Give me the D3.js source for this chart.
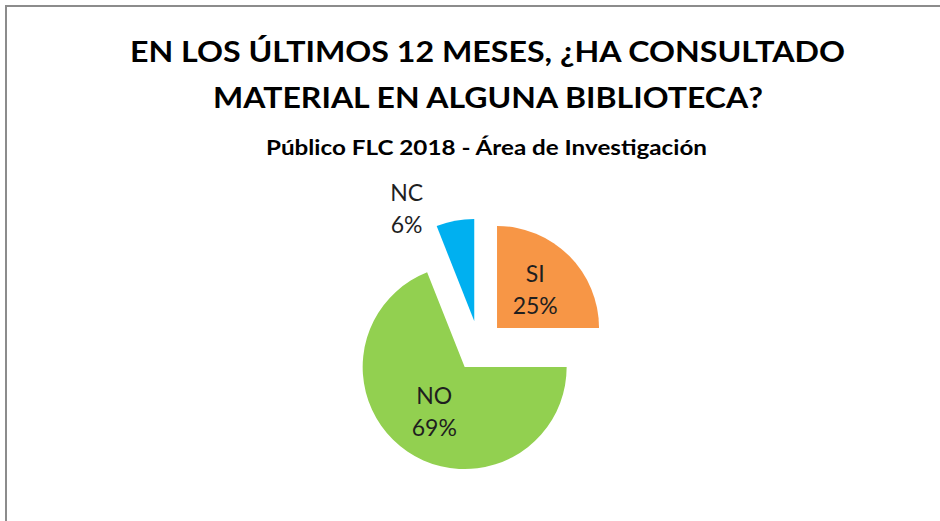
<!DOCTYPE html>
<html>
<head>
<meta charset="utf-8">
<script src="https://cdn.jsdelivr.net/npm/d3@7"></script>
<style>
  html, body { margin: 0; padding: 0; background: #ffffff; }
  svg { display: block; }
</style>
</head>
<body>
<svg id="chart" width="940" height="521"></svg>
<script>
// ---- data ----
const categories = ["SI", "NO", "NC"];
const values = [25, 69, 6];
const colors = ["#F79646", "#92D050", "#00B0F0"];
const titleLines = ["EN LOS ÚLTIMOS 12 MESES, ¿HA CONSULTADO", "MATERIAL EN ALGUNA BIBLIOTECA?"];
const subtitle = "Público FLC 2018 - Área de Investigación";

// ---- layout ----
const W = 940, H = 521;
const svg = d3.select("#chart");

// border frame (extends beyond right/bottom edges as in reference crop)
svg.append("rect")
  .attr("x", 6).attr("y", 6)
  .attr("width", W + 20).attr("height", H + 20)
  .attr("fill", "#ffffff")
  .attr("stroke", "#8c8c8c")
  .attr("stroke-width", 2);

// titles
const titleFont = "Lato, 'Open Sans', sans-serif";
const titleSpec = [
  { text: titleLines[0], y: 62, size: 28, x0: 130, x1: 845 },
  { text: titleLines[1], y: 108, size: 28, x0: 213, x1: 763 }
];
titleSpec.forEach(t => {
  svg.append("text")
    .attr("x", t.x0).attr("y", t.y)
    .attr("font-family", titleFont)
    .attr("font-weight", 700)
    .attr("font-size", t.size)
    .attr("fill", "#000")
    .attr("textLength", t.x1 - t.x0)
    .attr("lengthAdjust", "spacingAndGlyphs")
    .text(t.text);
});
svg.append("text")
  .attr("x", 266).attr("y", 155)
  .attr("font-family", titleFont)
  .attr("font-weight", 700)
  .attr("font-size", 20.5)
  .attr("fill", "#000")
  .attr("textLength", 707 - 266)
  .attr("lengthAdjust", "spacingAndGlyphs")
  .text(subtitle);

// pie
const cx = 479, cy = 346, R = 102;
const explode = 0.25 * R;

const pie = d3.pie().sort(null).value(d => d.value).startAngle(0).endAngle(2 * Math.PI);
const data = categories.map((c, i) => ({ name: c, value: values[i], color: colors[i] }));
const arcs = pie(data);
const total = d3.sum(values);

const arc = d3.arc().innerRadius(0).outerRadius(R);
const g = svg.append("g").attr("transform", `translate(${cx},${cy})`);

function polar(angle, r) {
  return [Math.sin(angle) * r, -Math.cos(angle) * r];
}

const slices = g.selectAll("g.slice")
  .data(arcs)
  .join("g")
  .attr("class", "slice")
  .attr("transform", d => {
    const mid = (d.startAngle + d.endAngle) / 2;
    const [dx, dy] = polar(mid, explode);
    return `translate(${dx},${dy})`;
  });

slices.append("path")
  .attr("d", arc)
  .attr("fill", d => d.data.color);

// labels
const labelFont = "Lato, 'Open Sans', sans-serif";
const labelSize = 23;
const lineH = 32;
slices.each(function(d) {
  const mid = (d.startAngle + d.endAngle) / 2;
  const frac = d.data.value / total;
  const sel = d3.select(this);
  let x, yc, anchor;
  if (frac >= 0.1) {
    const [px, py] = polar(mid, 0.53 * R);
    x = px; yc = py; anchor = "middle";
  } else {
    const [px, py] = polar(mid, R);
    x = px - 32; yc = py - 12; anchor = "end";
  }
  const t = sel.append("text")
    .attr("font-family", labelFont)
    .attr("font-size", labelSize)
    .attr("fill", "#1f1f1f")
    .attr("text-anchor", anchor);
  const lines = [d.data.name, Math.round(frac * 100) + "%"];
  lines.forEach((ln, i) => {
    t.append("tspan")
      .attr("x", x)
      .attr("y", yc - lineH / 2 + 8 + i * lineH)
      .text(ln);
  });
  if (anchor === "end") {
    // center the two lines on each other like Excel's centered multi-line label
    const bb = t.node().getBBox();
    t.attr("text-anchor", "middle");
    t.selectAll("tspan").attr("x", x - bb.width / 2);
  }
});
</script>
</body>
</html>
